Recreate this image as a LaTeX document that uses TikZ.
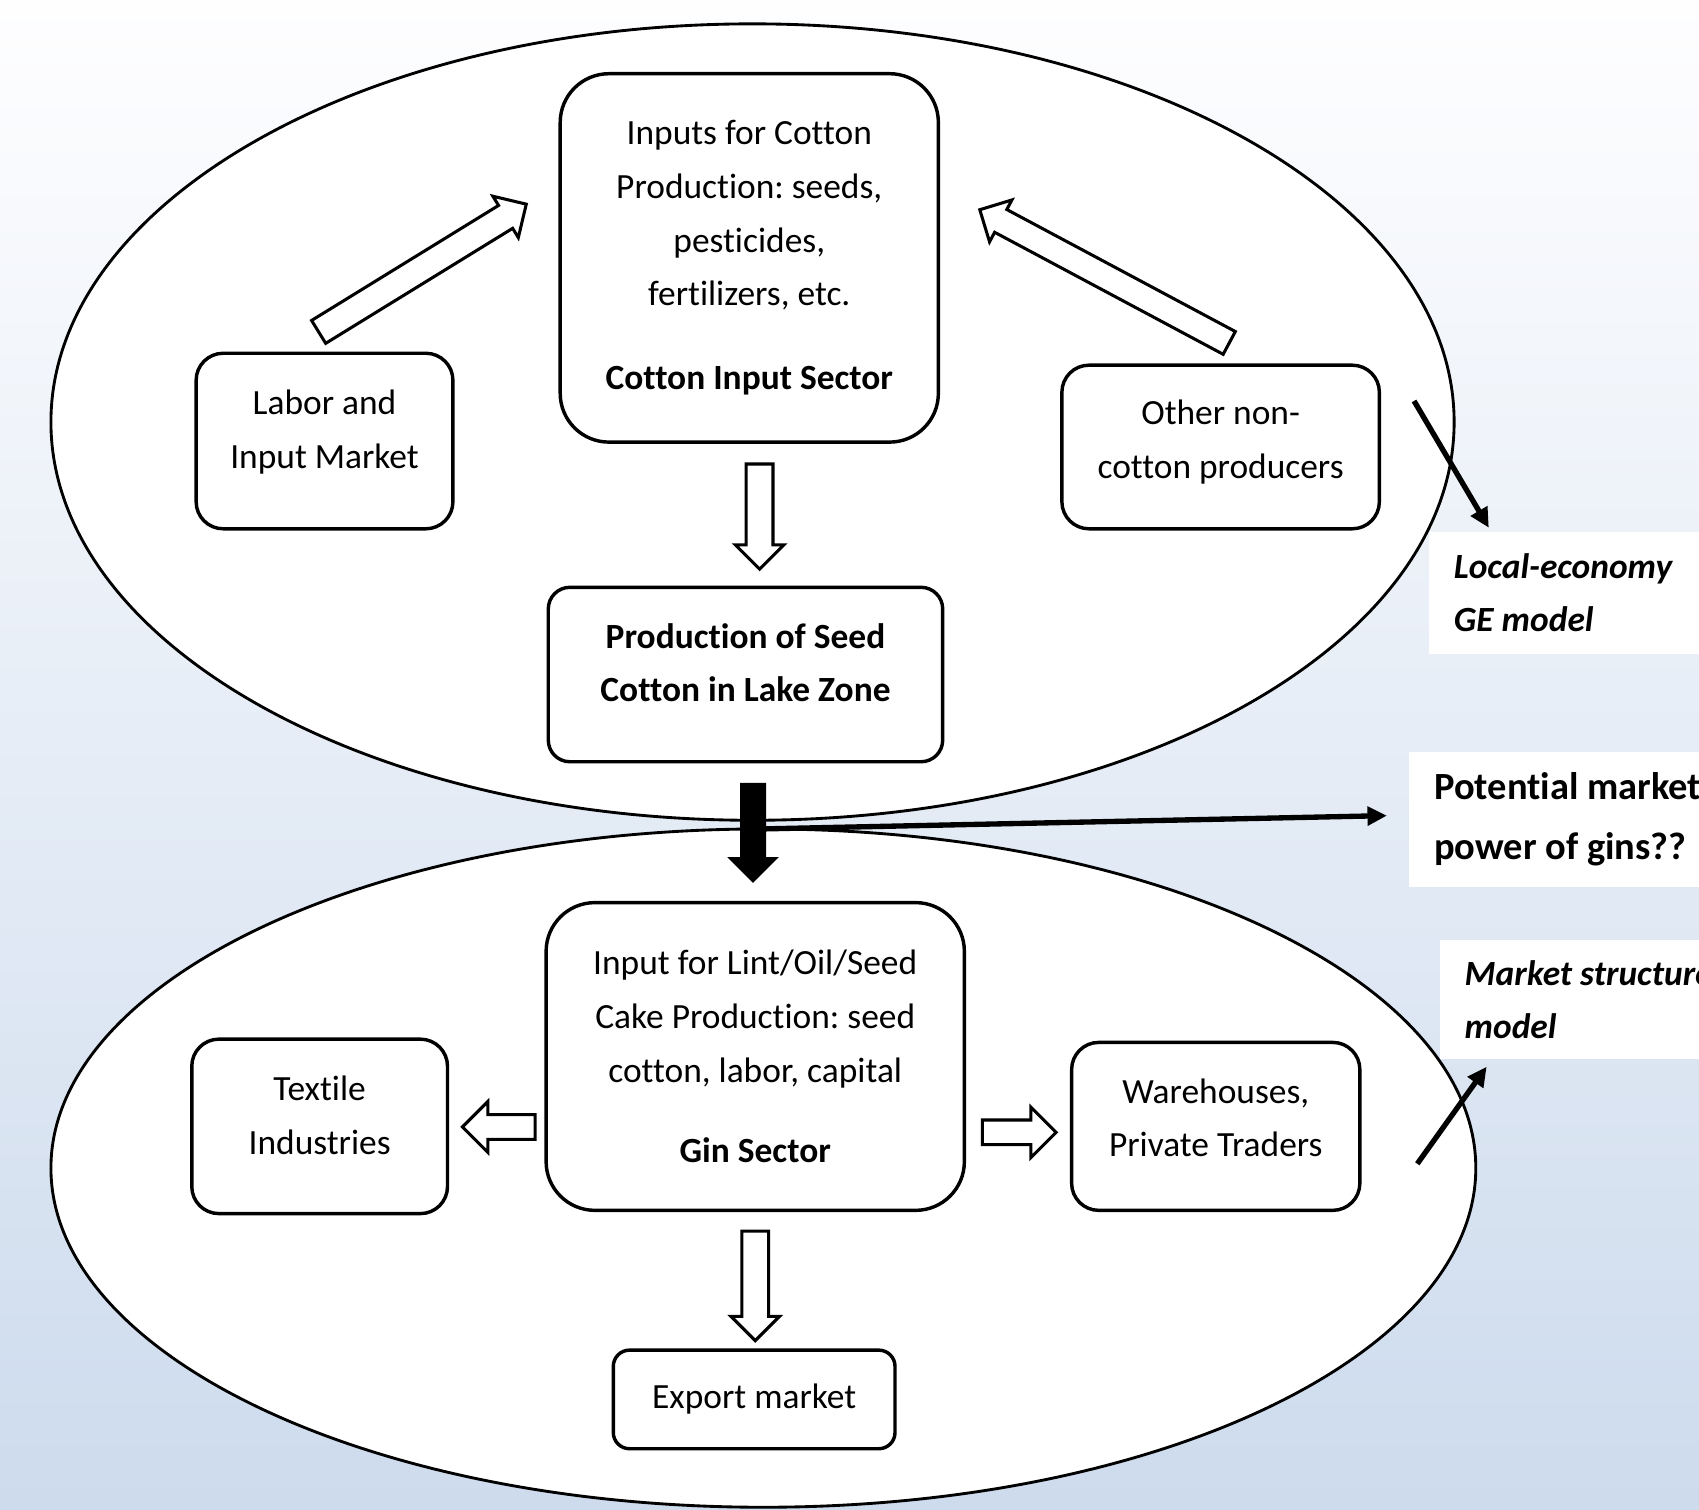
\documentclass[tikz,border=0pt]{standalone}
\usepackage{fontspec}
\setmainfont{Carlito}[Ligatures=NoCommon]
\usetikzlibrary{shapes.arrows,arrows.meta}
\definecolor{bgtop}{RGB}{254,254,255}
\definecolor{bgbot}{RGB}{205,219,237}
\frenchspacing

\begin{document}
\begin{tikzpicture}[
    box/.style={rectangle, draw, fill=white, line width=0.9pt,
      rounded corners=0.25cm, align=center, inner sep=0pt,
      font=\fontsize{9.3}{14.1}\selectfont},
    boldbox/.style={box, font=\fontsize{9.3}{14.1}\selectfont\bfseries},
    bigbox/.style={box, rounded corners=0.45cm},
    hollow/.style={single arrow, draw, fill=white, line width=0.8pt,
      inner xsep=0pt, inner ysep=0.11cm, single arrow head extend=0.1cm},
    blackarr/.style={hollow, fill=black, inner ysep=0.0925cm,
      single arrow head extend=0.0975cm},
    ptr/.style={-{Triangle[length=0.18cm, width=0.17cm]}, line width=1.4pt},
    tag/.style={fill=white, anchor=north west, align=flush left, text width=3cm,
      inner xsep=0.23cm, inner ysep=0pt,
      font=\fontsize{9.3}{13.8}\selectfont\bfseries\itshape}
  ]
  \useasboundingbox (0,0) rectangle (15.68,-13.93);
  \clip (0,0) rectangle (15.68,-13.93);
  \shade[top color=bgtop, bottom color=bgbot] (0,0) rectangle (15.68,-13.93);
  \draw[fill=white, line width=0.75pt] (6.945,-3.895) ellipse [x radius=6.475, y radius=3.675];
  \draw[fill=white, line width=0.75pt] (7.045,-10.78) ellipse [x radius=6.575, y radius=3.13];

  \node[bigbox, minimum width=3.49cm, minimum height=3.40cm] (cis) at (6.915,-2.38)
  {Inputs for Cotton\\Production: seeds,\\pesticides,\\fertilizers, etc.\\[8pt]\textbf{Cotton Input Sector}};
  \node[box, minimum width=2.37cm, minimum height=1.62cm] (lab) at (2.995,-4.07)
  {Labor and\\Input Market\rule[-0.22cm]{0pt}{0pt}};
  \node[box, minimum width=2.93cm, minimum height=1.51cm] (oth) at (11.265,-4.125)
  {Other non-\\cotton producers\rule[-0.14cm]{0pt}{0pt}};
  \node[boldbox, rounded corners=0.2cm, minimum width=3.64cm, minimum height=1.61cm] (prod) at (6.88,-6.225)
  {Production of Seed\\Cotton in Lake Zone\rule[-0.22cm]{0pt}{0pt}};
  \node[bigbox, minimum width=3.86cm, minimum height=2.84cm] (gin) at (6.97,-9.75)
  {Input for Lint/Oil/Seed\\Cake Production: seed\\cotton, labor, capital\\[7pt]\textbf{Gin Sector}};
  \node[box, minimum width=2.36cm, minimum height=1.61cm] (tex) at (2.95,-10.395)
  {Textile\\Industries\rule[-0.2cm]{0pt}{0pt}};
  \node[box, minimum width=2.66cm, minimum height=1.55cm] (ware) at (11.22,-10.395)
  {Warehouses,\\Private Traders\rule[-0.16cm]{0pt}{0pt}};
  \node[box, rounded corners=0.15cm, minimum width=2.60cm, minimum height=0.91cm] (exp) at (6.96,-12.915)
  {Export market};

  \node[tag, minimum height=1.13cm] (le) at (13.18,-4.90) {Local-economy\\GE model};
  \node[tag, minimum height=1.25cm, font=\fontsize{10.1}{15.6}\selectfont\bfseries] (pm) at (13.00,-6.93)
  {Potential market\\power of gins??};
  \node[tag, minimum height=1.10cm] (ms) at (13.28,-8.67) {Market structure\\model};

  \coordinate (leFrom) at (13.05,-3.70);
  \coordinate (pmFrom) at (7.03,-7.65);
  \coordinate (msFrom) at (13.08,-10.74);
  \draw[ptr] (leFrom) -- ([xshift=0.56cm, yshift=0.03cm]le.north west);
  \draw[ptr] (pmFrom) -- ([xshift=-0.2cm, yshift=0.035cm]pm.west);
  \draw[ptr] (msFrom) -- ([xshift=0.44cm, yshift=-0.06cm]ms.south west);

  \node[hollow, rotate=31.6, minimum height=2.25cm] (dgL) at (3.846,-2.506) {};
  \node[hollow, rotate=151.9, minimum height=2.61cm, inner ysep=0.105cm] (dgR) at (10.246,-2.578) {};
  \node[hollow, rotate=-90, minimum height=0.97cm] (dA) at (7.01,-4.705) {};
  \node[hollow, rotate=-90, minimum height=1.01cm] (dB) at (6.97,-11.805) {};
  \node[hollow, rotate=180, minimum height=0.67cm, inner ysep=0.1cm,
    single arrow head extend=0.12cm] (lT) at (4.66,-10.40) {};
  \node[hollow, minimum height=0.68cm, inner ysep=0.1cm,
    single arrow head extend=0.12cm] (rW) at (9.35,-10.45) {};
  \node[blackarr, rotate=-90, minimum height=0.89cm] (gA) at (6.95,-7.63) {};
\end{tikzpicture}
\end{document}
